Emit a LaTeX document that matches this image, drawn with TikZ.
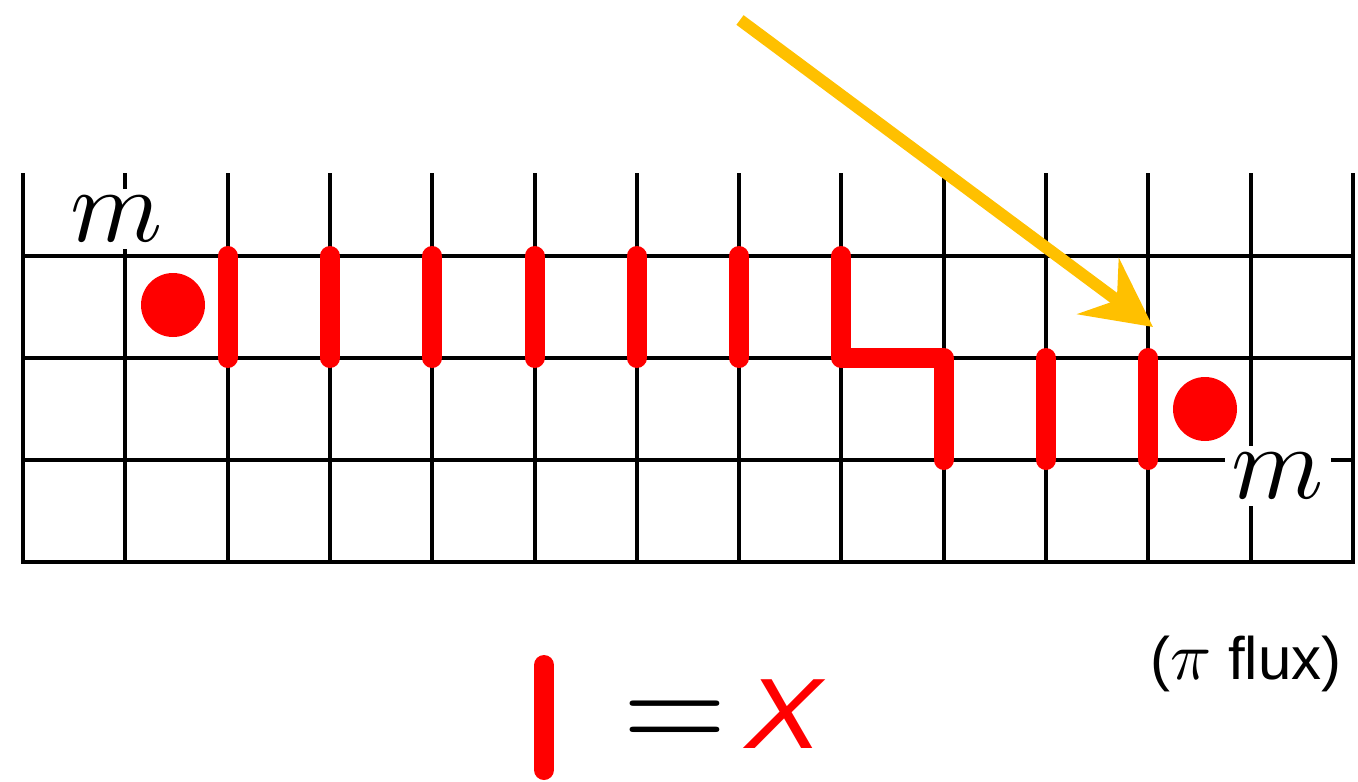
\documentclass[tikz,border=0pt]{standalone}
\usepackage{fontspec}
\newfontfamily\sansfont{Liberation Sans}
\usetikzlibrary{arrows.meta}
\definecolor{xred}{RGB}{255,0,0}
\definecolor{gold}{RGB}{255,192,0}
\newcommand{\bigmath}[2]{\scalebox{#1}{\fontsize{10}{12}\selectfont$#2$}}
\begin{document}
\begin{tikzpicture}[x=1pt,y=-1pt,
  gridline/.style={black, line width=4pt, line cap=rect},
  xbar/.style={xred, line width=20pt, line cap=round, line join=round},
  dot/.style={circle, fill=xred, minimum size=64pt, inner sep=0pt},
  mlabel/.style={fill=white, inner sep=7pt},
  arrowline/.style={gold, line width=12pt, -{Stealth[length=68pt,width=69pt,inset=23pt]}},
  ]
\useasboundingbox (0,0) rectangle (1358,782);
% grid
\foreach \k in {0,...,13} \draw[gridline] ({23+102.3*\k},175) -- ({23+102.3*\k},562);
\foreach \y in {256,358,460,562} \draw[gridline] (23,\y) -- (1352.9,\y);
% labels
\node[mlabel] (m1) at (117,219) {\bigmath{10.5}{m}};
\node[mlabel] (m2) at (1278,476) {\bigmath{10.5}{m}};
% dots
\node[dot] (d1) at (173,305) {};
\node[dot] (d2) at (1205,409) {};
% X string
\foreach \k in {2,...,7} \draw[xbar] ({23+102.3*\k},256) -- ({23+102.3*\k},358);
\draw[xbar] (841.4,256) -- (841.4,358) -- (943.7,358) -- (943.7,460);
\foreach \k in {10,11} \draw[xbar] ({23+102.3*\k},358) -- ({23+102.3*\k},460);
% arrow
\coordinate (as) at (740,20);
\coordinate (at) at (1153,327);
\draw[arrowline] (as) -- (at);
% legend
\coordinate (lb1) at (544,665);
\coordinate (lb2) at (544,770);
\draw[xbar] (lb1) -- (lb2);
\node[anchor=base, inner sep=0pt] (eq) at (675,750) {\bigmath{13.5}{=}};
\node[anchor=base west, inner sep=0pt, text=xred, font=\sansfont\itshape\fontsize{100}{110}\selectfont] (X) at (745,748) {\scalebox{1.15}[1]{X}};
\node[anchor=base, inner sep=0pt, font=\sansfont\fontsize{60}{70}\selectfont] (flux) at (1246,679) {(\bigmath{6.8}{\pi} flux)};
\end{tikzpicture}
\end{document}
